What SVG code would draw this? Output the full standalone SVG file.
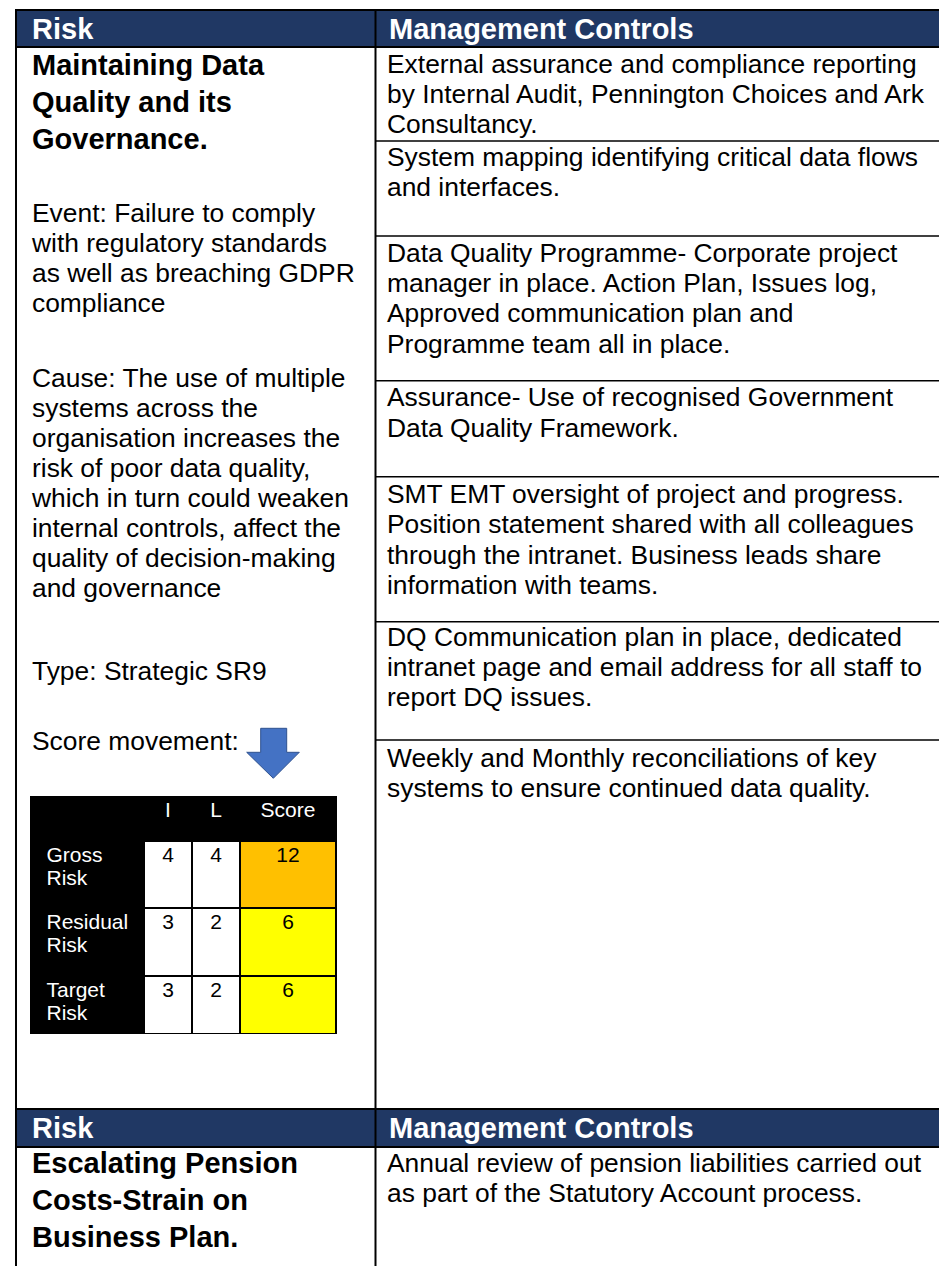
<svg xmlns="http://www.w3.org/2000/svg" width="939" height="1266" viewBox="0 0 939 1266">
<style>
text{font-family:"Liberation Sans",Arial,sans-serif;fill:#000}
.hd{font-size:29px;font-weight:bold;fill:#fff}
.tb{font-size:29px;font-weight:bold}
.tx{font-size:26.4px}
.sm{font-size:21px}
.w{fill:#fff}
.mid{text-anchor:middle}
.ln{stroke:#000;stroke-width:2;fill:none}
.rl{stroke:#000;stroke-width:1.6;fill:none}
.hfill{fill:#203864}
</style>
<rect width="939" height="1266" fill="#fff"/>

<g id="header1">
<rect class="hfill" x="16" y="10" width="923" height="37"/>
<text class="hd" x="32" y="38.5">Risk</text>
<text class="hd" x="389" y="38.5">Management Controls</text>
</g>

<g id="risk1">
<text class="tb" x="32" y="75">Maintaining Data</text>
<text class="tb" x="32" y="112">Quality and its</text>
<text class="tb" x="32" y="149">Governance.</text>
<text class="tx" x="32" y="222.3">Event: Failure to comply</text>
<text class="tx" x="32" y="252.3">with regulatory standards</text>
<text class="tx" x="32" y="282.3">as well as breaching GDPR</text>
<text class="tx" x="32" y="312.3">compliance</text>
<text class="tx" x="32" y="386.7">Cause: The use of multiple</text>
<text class="tx" x="32" y="416.8">systems across the</text>
<text class="tx" x="32" y="446.9">organisation increases the</text>
<text class="tx" x="32" y="477">risk of poor data quality,</text>
<text class="tx" x="32" y="507.1">which in turn could weaken</text>
<text class="tx" x="32" y="537.2">internal controls, affect the</text>
<text class="tx" x="32" y="567.3">quality of decision-making</text>
<text class="tx" x="32" y="597.4">and governance</text>
<text class="tx" x="32" y="680">Type: Strategic SR9</text>
<text class="tx" x="32" y="750">Score movement:</text>
<polygon points="260.7,728.3 286.7,728.3 286.7,752.3 299.3,752.3 273.3,778.3 246.7,752.3 260.7,752.3" fill="#4472C4" stroke="#2F528F" stroke-width="1"/>
</g>

<g id="score-table">
<rect x="30" y="796" width="307" height="238" fill="#000"/>
<rect x="145" y="842" width="46" height="65" fill="#fff"/>
<rect x="193" y="842" width="46" height="65" fill="#fff"/>
<rect x="241" y="842" width="94" height="65" fill="#FFC000"/>
<rect x="145" y="909" width="46" height="66" fill="#fff"/>
<rect x="193" y="909" width="46" height="66" fill="#fff"/>
<rect x="241" y="909" width="94" height="66" fill="#FFFF00"/>
<rect x="145" y="977" width="46" height="56" fill="#fff"/>
<rect x="193" y="977" width="46" height="56" fill="#fff"/>
<rect x="241" y="977" width="94" height="56" fill="#FFFF00"/>
<text class="sm w mid" x="168" y="817">I</text>
<text class="sm w mid" x="216" y="817">L</text>
<text class="sm w mid" x="288" y="817">Score</text>
<text class="sm w" x="46.5" y="862">Gross</text>
<text class="sm w" x="46.5" y="885">Risk</text>
<text class="sm w" x="46.5" y="928.5">Residual</text>
<text class="sm w" x="46.5" y="952">Risk</text>
<text class="sm w" x="46.5" y="997">Target</text>
<text class="sm w" x="46.5" y="1020">Risk</text>
<text class="sm mid" x="168" y="862">4</text>
<text class="sm mid" x="216" y="862">4</text>
<text class="sm mid" x="288" y="862">12</text>
<text class="sm mid" x="168" y="928.5">3</text>
<text class="sm mid" x="216" y="928.5">2</text>
<text class="sm mid" x="288" y="928.5">6</text>
<text class="sm mid" x="168" y="997">3</text>
<text class="sm mid" x="216" y="997">2</text>
<text class="sm mid" x="288" y="997">6</text>
</g>

<g id="controls1">
<text class="tx" x="387" y="72.7">External assurance and compliance reporting</text>
<text class="tx" x="387" y="103">by Internal Audit, Pennington Choices and Ark</text>
<text class="tx" x="387" y="133.3">Consultancy.</text>
<text class="tx" x="387" y="166">System mapping identifying critical data flows</text>
<text class="tx" x="387" y="196.3">and interfaces.</text>
<text class="tx" x="387" y="261.7">Data Quality Programme- Corporate project</text>
<text class="tx" x="387" y="292">manager in place. Action Plan, Issues log,</text>
<text class="tx" x="387" y="322.3">Approved communication plan and</text>
<text class="tx" x="387" y="353">Programme team all in place.</text>
<text class="tx" x="387" y="406">Assurance- Use of recognised Government</text>
<text class="tx" x="387" y="436.5">Data Quality Framework.</text>
<text class="tx" x="387" y="503">SMT EMT oversight of project and progress.</text>
<text class="tx" x="387" y="533.3">Position statement shared with all colleagues</text>
<text class="tx" x="387" y="563.6">through the intranet. Business leads share</text>
<text class="tx" x="387" y="594">information with teams.</text>
<text class="tx" x="387" y="645.5">DQ Communication plan in place, dedicated</text>
<text class="tx" x="387" y="675.8">intranet page and email address for all staff to</text>
<text class="tx" x="387" y="706.2">report DQ issues.</text>
<text class="tx" x="387" y="766.5">Weekly and Monthly reconciliations of key</text>
<text class="tx" x="387" y="796.8">systems to ensure continued data quality.</text>
</g>

<g id="header2">
<rect class="hfill" x="16" y="1109" width="923" height="38"/>
<text class="hd" x="32" y="1137.5">Risk</text>
<text class="hd" x="389" y="1137.5">Management Controls</text>
</g>

<g id="risk2">
<text class="tb" x="32" y="1173.3">Escalating Pension</text>
<text class="tb" x="32" y="1210.3">Costs-Strain on</text>
<text class="tb" x="32" y="1247.3">Business Plan.</text>
</g>

<g id="controls2">
<text class="tx" x="387" y="1171.7">Annual review of pension liabilities carried out</text>
<text class="tx" x="387" y="1202">as part of the Statutory Account process.</text>
</g>

<g id="grid">
<line class="ln" x1="15" y1="10" x2="939" y2="10"/>
<line class="ln" x1="15" y1="47" x2="939" y2="47"/>
<line class="rl" x1="375.5" y1="141" x2="939" y2="141"/>
<line class="rl" x1="375.5" y1="236" x2="939" y2="236"/>
<line class="rl" x1="375.5" y1="380.7" x2="939" y2="380.7"/>
<line class="rl" x1="375.5" y1="476.7" x2="939" y2="476.7"/>
<line class="rl" x1="375.5" y1="621.7" x2="939" y2="621.7"/>
<line class="rl" x1="375.5" y1="740" x2="939" y2="740"/>
<line class="ln" x1="15" y1="1109" x2="939" y2="1109"/>
<line class="ln" x1="15" y1="1147" x2="939" y2="1147"/>
<line class="ln" x1="16" y1="9" x2="16" y2="1266"/>
<line class="ln" x1="375.5" y1="9" x2="375.5" y2="1266"/>
</g>
</svg>
